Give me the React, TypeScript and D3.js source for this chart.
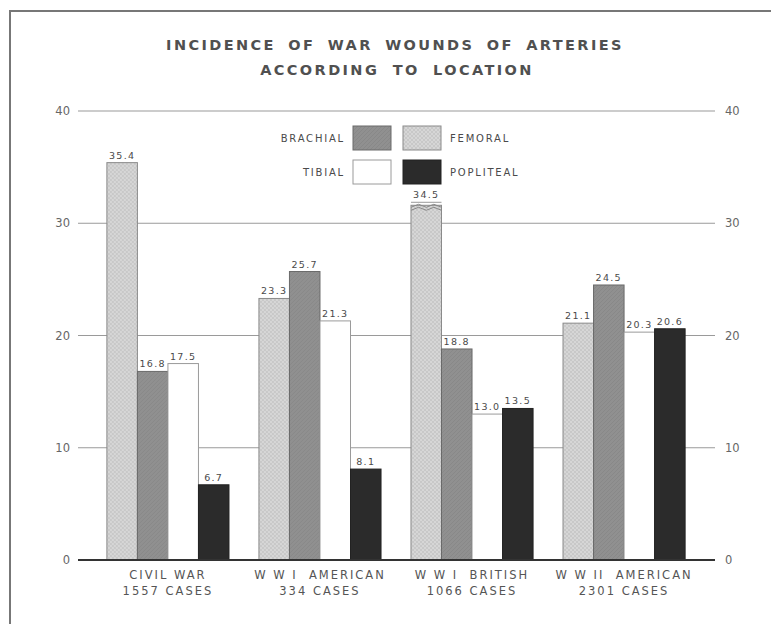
import React from "react";
import * as d3 from "d3";

const groups = ["CIVIL WAR", "W W I  AMERICAN", "W W I  BRITISH", "W W II  AMERICAN"];
const groupCases = ["1557 CASES", "334 CASES", "1066 CASES", "2301 CASES"];
const seriesNames = ["FEMORAL", "BRACHIAL", "TIBIAL", "POPLITEAL"];
const femoral = [35.4, 23.3, 34.5, 21.1];
const brachial = [16.8, 25.7, 18.8, 24.5];
const tibial = [17.5, 21.3, 13.0, 20.3];
const popliteal = [6.7, 8.1, 13.5, 20.6];
const femoralLabels = ["35.4", "23.3", "34.5", "21.1"];
const brachialLabels = ["16.8", "25.7", "18.8", "24.5"];
const tibialLabels = ["17.5", "21.3", "13.0", "20.3"];
const poplitealLabels = ["6.7", "8.1", "13.5", "20.6"];
// the WW I British femoral bar is drawn broken (shortened) in the original
const brokenGroup = "W W I  BRITISH";
const brokenDrawnTo = 31.6;
const yTicks = [0, 10, 20, 30, 40];

const W = 771;
const H = 624;
const FONT = "'DejaVu Sans', Verdana, sans-serif";
const TXT = "#4a4a4a";

export default function App() {
  const series = [femoral, brachial, tibial, popliteal];
  const labels = [femoralLabels, brachialLabels, tibialLabels, poplitealLabels];
  const y = d3.scaleLinear().domain([0, 40]).range([560, 111]);
  const x0 = d3.scaleBand<string>().domain(groups).range([78, 714]).paddingInner(0.197).paddingOuter(0.19);
  const x1 = d3.scaleBand<string>().domain(seriesNames).range([0, x0.bandwidth()]).padding(0);

  const fills: Record<string, string> = {
    FEMORAL: "url(#femPat)",
    BRACHIAL: "url(#braPat)",
    TIBIAL: "#ffffff",
    POPLITEAL: "#2b2b2b",
  };
  const strokes: Record<string, string> = {
    FEMORAL: "#8a8a8a",
    BRACHIAL: "#6a6a6a",
    TIBIAL: "#9a9a9a",
    POPLITEAL: "#222",
  };

  const legendItems = [
    { name: "BRACHIAL", sx: 353, sy: 126, tx: 345, anchor: "end" },
    { name: "FEMORAL", sx: 403, sy: 126, tx: 450, anchor: "start" },
    { name: "TIBIAL", sx: 353, sy: 160, tx: 345, anchor: "end" },
    { name: "POPLITEAL", sx: 403, sy: 160, tx: 450, anchor: "start" },
  ];

  return (
    <svg width={W} height={H} style={{ display: "block", position: "absolute", left: 0, top: 0, background: "#fff" }}>
      <defs>
        <pattern id="femPat" width="4" height="4" patternUnits="userSpaceOnUse">
          <rect width="4" height="4" fill="#d6d6d6" />
          <path d="M0,4 L4,0 M0,0 L4,4" stroke="#c0c0c0" strokeWidth="0.6" />
        </pattern>
        <pattern id="braPat" width="4" height="4" patternUnits="userSpaceOnUse">
          <rect width="4" height="4" fill="#909090" />
          <path d="M0,4 L4,0" stroke="#838383" strokeWidth="0.6" />
        </pattern>
      </defs>
      <rect x={0} y={0} width={W} height={H} fill="#fff" />
      {/* frame */}
      <path d={`M10,${H} L10,11 L${W},11`} fill="none" stroke="#777" strokeWidth={2} />

      {/* title */}
      <text x={395} y={50} textAnchor="middle" fontFamily={FONT} fontSize={14.5} fontWeight="bold" letterSpacing={2.4} wordSpacing={5} fill="#505050">
        INCIDENCE OF WAR WOUNDS OF ARTERIES
      </text>
      <text x={397} y={75} textAnchor="middle" fontFamily={FONT} fontSize={14.5} fontWeight="bold" letterSpacing={2.4} wordSpacing={6} fill="#505050">
        ACCORDING TO LOCATION
      </text>

      {/* gridlines and axes labels */}
      {yTicks.map((t) => (
        <g key={t}>
          {t > 0 && <line x1={78} x2={715} y1={y(t)} y2={y(t)} stroke="#9a9a9a" strokeWidth={1.2} />}
          <text x={70} y={y(t) + 4} textAnchor="end" fontFamily={FONT} fontSize={11.5} fill="#666">{t}</text>
          <text x={725} y={y(t) + 4} textAnchor="start" fontFamily={FONT} fontSize={11.5} fill="#666">{t}</text>
        </g>
      ))}

      {/* bars */}
      {groups.map((g, gi) => (
        <g key={g} transform={`translate(${x0(g)},0)`}>
          {seriesNames.map((s, si) => {
            const v = series[si][gi];
            const broken = si === 0 && g === brokenGroup;
            const drawV = broken ? brokenDrawnTo : v;
            const bx = x1(s)!;
            const bw = x1.bandwidth();
            const top = y(drawV);
            return (
              <g key={s}>
                <rect x={bx} y={top} width={bw} height={y(0) - top} fill={fills[s]} stroke={strokes[s]} strokeWidth={1} />
                {broken && (
                  <g>
                    <path
                      d={`M${bx},${top + 2} l${bw / 4},-3 l${bw / 4},3 l${bw / 4},-3 l${bw / 4},3`}
                      fill="none" stroke="#888" strokeWidth={1}
                    />
                    <path
                      d={`M${bx},${top + 5} l${bw / 4},-3 l${bw / 4},3 l${bw / 4},-3 l${bw / 4},3`}
                      fill="none" stroke="#888" strokeWidth={1}
                    />
                    <path
                      d={`M${bx},${top - 3} L${bx + bw},${top - 3}`}
                      fill="none" stroke="#999" strokeWidth={1}
                    />
                  </g>
                )}
                <text
                  x={bx + bw / 2}
                  y={(broken ? top - 3 : top) - 4}
                  textAnchor="middle" fontFamily={FONT} fontSize={9.5} letterSpacing={1.3} fill={TXT}
                >
                  {labels[si][gi]}
                </text>
              </g>
            );
          })}
          <text x={x0.bandwidth() / 2} y={579} textAnchor="middle" fontFamily={FONT} fontSize={11.5} letterSpacing={2} fill="#555" style={{ whiteSpace: "pre" }}>
            {g}
          </text>
          <text x={x0.bandwidth() / 2} y={595} textAnchor="middle" fontFamily={FONT} fontSize={11.5} letterSpacing={2} fill="#555">
            {groupCases[gi]}
          </text>
        </g>
      ))}

      {/* baseline */}
      <line x1={78} x2={715} y1={y(0)} y2={y(0)} stroke="#333" strokeWidth={2.2} />

      {/* legend */}
      {legendItems.map((it) => (
        <g key={it.name}>
          <rect x={it.sx} y={it.sy} width={38} height={24} fill={fills[it.name]} stroke={strokes[it.name]} strokeWidth={1} />
          <text x={it.tx} y={it.sy + 16} textAnchor={it.anchor as any} fontFamily={FONT} fontSize={10} letterSpacing={1.8} fill={TXT}>
            {it.name}
          </text>
        </g>
      ))}
    </svg>
  );
}
